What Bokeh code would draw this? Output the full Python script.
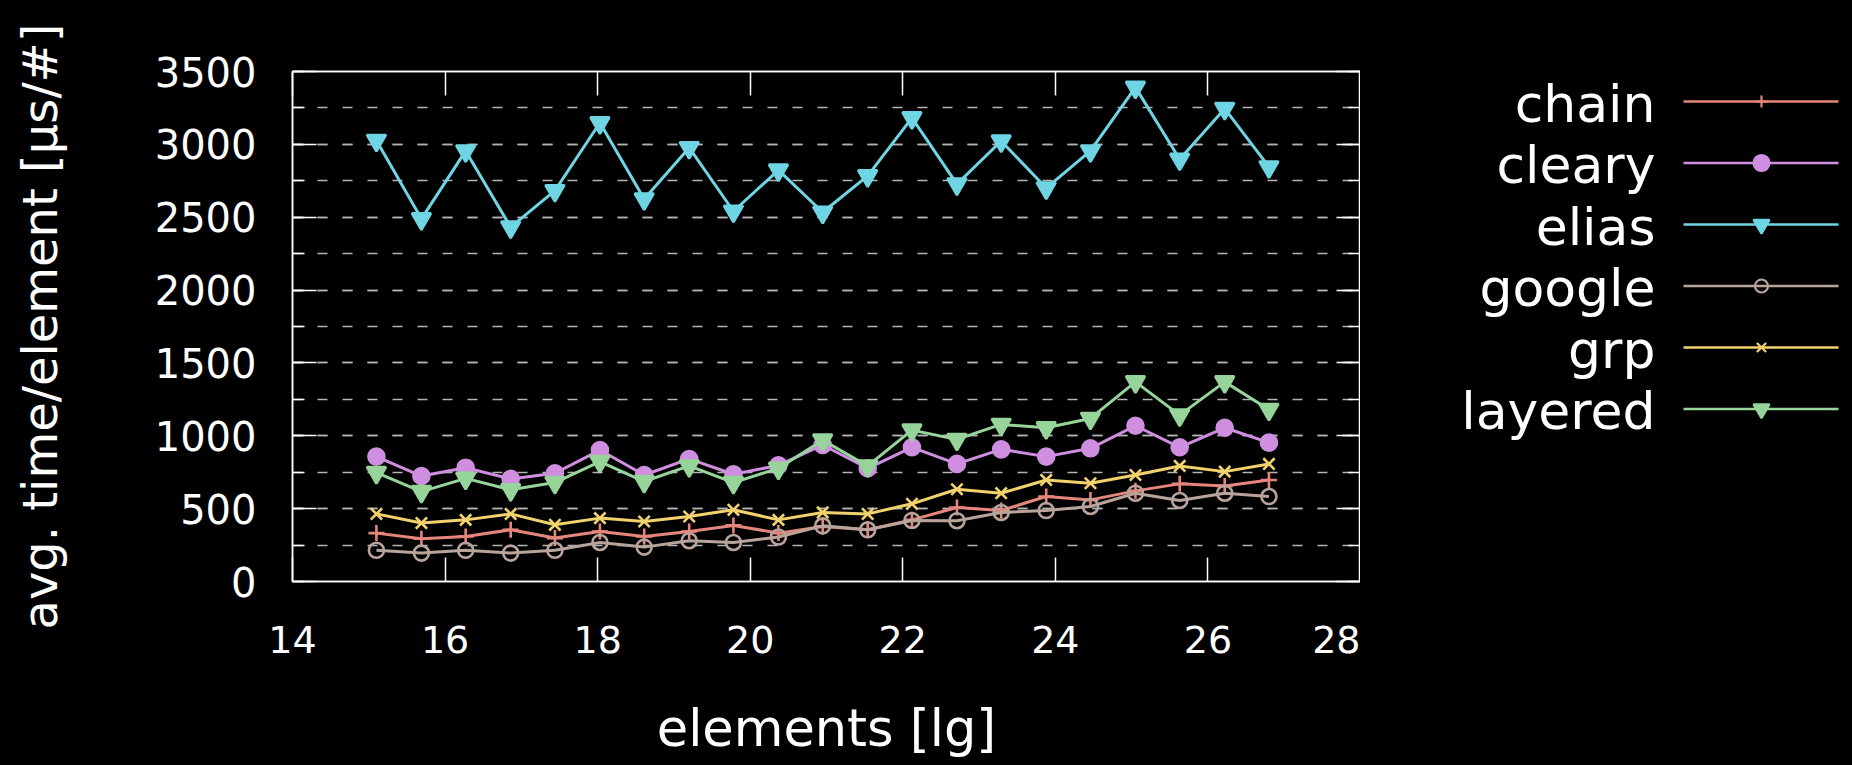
from bokeh.plotting import figure
from bokeh.models import SingleIntervalTicker, Range1d, LinearAxis, CustomJSTickFormatter
from bokeh.layouts import row
from bokeh.embed import file_html
from bokeh.resources import INLINE
from bokeh.core.properties import value

# ---------------- data ----------------
elements_lg = [15.10, 15.69, 16.27, 16.86, 17.44, 18.03, 18.61, 19.20, 19.78, 20.37, 20.95,
               21.54, 22.12, 22.71, 23.29, 23.88, 24.46, 25.05, 25.63, 26.22, 26.80]
chain = [332, 293, 309, 355, 298, 343, 309, 343, 385, 332, 378,
         355, 423, 508, 487, 583, 560, 622, 670, 656, 697]
cleary = [857, 724, 781, 704, 743, 902, 731, 841, 736, 797, 937,
          777, 921, 807, 907, 857, 914, 1069, 921, 1055, 953]
elias = [3027, 2489, 2955, 2432, 2682, 3148, 2625, 2977, 2541, 2823, 2534,
         2784, 3182, 2727, 3023, 2700, 2955, 3391, 2898, 3245, 2845]
google = [214, 195, 214, 195, 214, 268, 236, 280, 268, 305, 382,
          355, 419, 417, 474, 487, 515, 606, 556, 606, 583]
grp = [464, 401, 423, 464, 389, 435, 412, 446, 492, 423, 474,
       464, 533, 633, 606, 697, 674, 731, 793, 754, 807]
layered = [747, 617, 708, 629, 679, 823, 686, 793, 679, 777, 970,
           793, 1039, 975, 1078, 1055, 1119, 1370, 1142, 1370, 1181]

series_names = ["chain", "cleary", "elias", "google", "grp", "layered"]
series_values = [chain, cleary, elias, google, grp, layered]
series_colors = ["#e5867c", "#cf8ee0", "#6fd4e4", "#b9a49c", "#f2d26c", "#96d49a"]
series_markers = ["cross", "circle", "inverted_triangle", "circle", "x", "inverted_triangle"]
series_sizes = [16, 16, 19, 15, 16, 19]
legend_sizes = [12, 16, 16, 13, 13, 16]
series_filled = [True, True, True, False, True, True]

x_title = "elements [lg]"
y_title = "avg. time/element [µs/#]"

FONT = "DejaVu Sans"
WHITE = "#ffffff"

# ---------------- main plot ----------------
p = figure(frame_width=1068, frame_height=510, title=None,
           min_border_left=282, min_border_right=0, min_border_top=63, min_border_bottom=176,
           x_range=Range1d(14, 28), y_range=Range1d(0, 3500),
           output_backend="svg", toolbar_location=None,
           background_fill_color="black", border_fill_color="black",
           outline_line_color=WHITE, outline_line_width=1.5)

xticker = SingleIntervalTicker(interval=2, num_minor_ticks=0)
yticker = SingleIntervalTicker(interval=500, num_minor_ticks=2)

xax = p.xaxis[0]
xax.ticker = xticker
xax.axis_line_color = WHITE
xax.axis_line_width = 1.5
xax.major_tick_line_color = WHITE
xax.major_tick_line_width = 1.5
xax.major_tick_in = 24
xax.major_tick_out = 0
xax.minor_tick_line_color = None
xax.major_label_text_color = WHITE
xax.major_label_text_font = FONT
xax.major_label_text_font_size = "38px"
xax.major_label_standoff = 44
xax.axis_label = x_title
xax.axis_label_text_color = WHITE
xax.axis_label_text_font = FONT
xax.axis_label_text_font_size = "51px"
xax.axis_label_text_font_style = "normal"
xax.axis_label_standoff = 43

yax = p.yaxis[0]
yax.ticker = yticker
yax.axis_line_color = WHITE
yax.axis_line_width = 1.5
yax.major_tick_line_color = WHITE
yax.major_tick_line_width = 1.5
yax.minor_tick_line_color = WHITE
yax.minor_tick_line_width = 1.5
yax.major_tick_in = 24
yax.major_tick_out = 0
yax.minor_tick_in = 12
yax.minor_tick_out = 0
yax.major_label_text_color = WHITE
yax.major_label_text_font = FONT
yax.major_label_text_font_size = "40px"
yax.major_label_standoff = 36
yax.axis_label = y_title
yax.axis_label_text_color = WHITE
yax.axis_label_text_font = FONT
yax.axis_label_text_font_size = "48px"
yax.axis_label_text_font_style = "normal"
yax.axis_label_standoff = 84

blank = CustomJSTickFormatter(code="return '';")
top = LinearAxis(ticker=SingleIntervalTicker(interval=2, num_minor_ticks=0), formatter=blank,
                 axis_line_color=WHITE, axis_line_width=1.5,
                 major_tick_line_color=WHITE, major_tick_line_width=1.5,
                 major_tick_in=24, major_tick_out=0, minor_tick_line_color=None,
                 major_label_standoff=0)
p.add_layout(top, "above")
right = LinearAxis(ticker=SingleIntervalTicker(interval=500, num_minor_ticks=2), formatter=blank,
                   axis_line_color=WHITE, axis_line_width=1.5,
                   major_tick_line_color=WHITE, major_tick_line_width=1.5,
                   minor_tick_line_color=WHITE, minor_tick_line_width=1.5,
                   major_tick_in=24, major_tick_out=0, minor_tick_in=12, minor_tick_out=0,
                   major_label_standoff=0)
p.add_layout(right, "right")

p.xgrid.visible = False
p.ygrid.ticker = yticker
p.ygrid.grid_line_color = "#b4b4b4"
p.ygrid.grid_line_width = 1.5
p.ygrid.grid_line_dash = "10 15"
p.ygrid.minor_grid_line_color = "#b4b4b4"
p.ygrid.minor_grid_line_width = 1.5
p.ygrid.minor_grid_line_dash = "10 15"

for ys, col, mk, sz, filled in zip(series_values, series_colors, series_markers,
                                   series_sizes, series_filled):
    p.line(elements_lg, ys, line_color=col, line_width=3)
    p.scatter(elements_lg, ys, marker=mk, size=sz, line_color=col, line_width=2.6,
              fill_color=col if filled else None)

# ---------------- legend (gnuplot style: label, then sample) ----------------
# its frame is aligned with the main frame; coordinates are pixels from the frame's top-left
LW, LH = 480, 510
lg = figure(frame_width=LW, frame_height=LH, title=None,
            min_border_left=0, min_border_right=0, min_border_top=63, min_border_bottom=176,
            x_range=Range1d(0, LW), y_range=Range1d(LH, 0),
            output_backend="svg", toolbar_location=None,
            background_fill_color="black", border_fill_color="black",
            outline_line_color=None, x_axis_location=None, y_axis_location=None)
lg.xgrid.visible = False
lg.ygrid.visible = False

LEG_TOP, LEG_STEP = 30, 61.5
TEXT_RIGHT, SAMPLE_X0, SAMPLE_X1, SAMPLE_MID = 295, 323, 478, 401
row_y = [LEG_TOP + i * LEG_STEP for i in range(len(series_names))]

lg.text(x=[TEXT_RIGHT] * len(series_names), y=[y + 2 for y in row_y], text=series_names,
        text_align="right", text_baseline="alphabetic", text_color=WHITE,
        text_font=value(FONT), text_font_size="52px")
lg.segment(x0=[SAMPLE_X0] * len(row_y), y0=row_y, x1=[SAMPLE_X1] * len(row_y), y1=row_y,
           line_color=series_colors, line_width=2.5)
for y, col, mk, sz, filled in zip(row_y, series_colors, series_markers, legend_sizes, series_filled):
    lg.scatter([SAMPLE_MID], [y], marker=mk, size=sz, line_color=col, line_width=2.2,
               fill_color=col if filled else None)

layout = row(p, lg)

html = file_html(layout, INLINE)
html = html.replace("</head>",
                    "<style>html{background:#000000;}body{background:#000000;margin:8px;}</style></head>", 1)
open("out.html", "w").write(html)
